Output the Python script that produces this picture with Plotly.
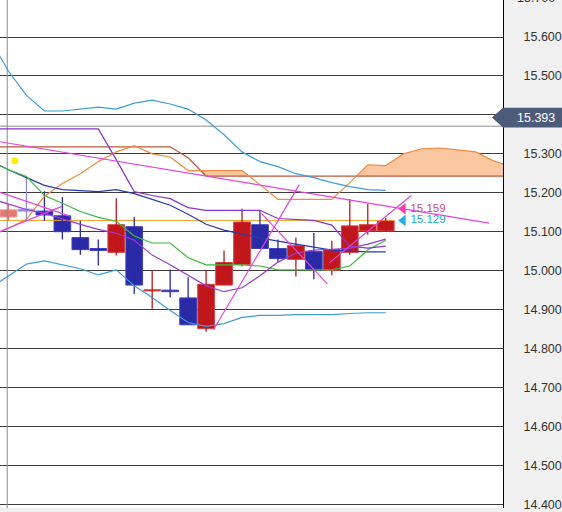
import plotly.graph_objects as go

# ---------------- data ----------------
# candles (index 0..21)
opens  = [15.138, 15.158, 15.153, 15.141, 15.085, 15.057, 15.047, 15.113, 14.948, 14.950, 14.930,
          14.851, 14.963, 15.016, 15.118, 15.057, 15.029, 15.049, 15.001, 15.047, 15.102, 15.102]
highs  = [15.170, 15.240, 15.204, 15.189, 15.128, 15.080, 15.186, 15.138, 15.001, 15.003, 14.983,
          15.001, 15.052, 15.159, 15.153, 15.080, 15.085, 15.097, 15.077, 15.184, 15.171, 15.135]
lows   = [15.130, 15.128, 15.128, 15.080, 15.041, 15.013, 15.039, 14.940, 14.902, 14.932, 14.861,
          14.843, 14.963, 15.011, 15.057, 15.021, 14.985, 14.978, 14.988, 15.041, 15.092, 15.100]
closes = [15.156, 15.153, 15.143, 15.100, 15.054, 15.052, 15.118, 14.963, 14.951, 14.946, 14.861,
          14.965, 15.021, 15.125, 15.057, 15.031, 15.064, 15.003, 15.054, 15.115, 15.118, 15.129]
faded = [True, True] + [False] * 20

# indicator lines, index -1..21
ind_x = list(range(-1, 22))
bb_upper = [15.593, 15.512, 15.450, 15.410, 15.410, 15.415, 15.420, 15.415, 15.430, 15.438, 15.428,
            15.415, 15.387, 15.349, 15.305, 15.280, 15.267, 15.249, 15.239, 15.226, 15.216, 15.208, 15.206]
bb_lower = [14.956, 14.987, 15.017, 15.025, 15.015, 15.005, 14.989, 15.002, 14.961, 14.931, 14.898,
            14.867, 14.857, 14.864, 14.880, 14.885, 14.885, 14.887, 14.887, 14.887, 14.890, 14.892, 14.892]
bb_mid   = [15.282, 15.259, 15.239, 15.219, 15.208, 15.206, 15.203, 15.208, 15.198, 15.183, 15.168,
            15.145, 15.119, 15.104, 15.094, 15.084, 15.076, 15.068, 15.061, 15.053, 15.050, 15.048, 15.048]
green_ln = [15.282, 15.259, 15.242, 15.193, 15.173, 15.152, 15.137, 15.127, 15.089, 15.071, 15.071,
            15.033, 15.015, 15.015, 15.015, 15.012, 15.002, 15.002, 15.002, 15.002, 15.012, 15.053, 15.078]
kijun    = [15.364, 15.364, 15.364, 15.364, 15.364, 15.364, 15.364, 15.285, 15.203, 15.193, 15.185,
            15.162, 15.155, 15.155, 15.155, 15.155, 15.134, 15.132, 15.129, 15.117, 15.063, 15.058, 15.063]
tenkan   = [15.185, 15.170, 15.157, 15.147, 15.132, 15.119, 15.106, 15.096, 15.078, 15.040, 15.015,
            14.987, 14.961, 14.946, 14.956, 14.987, 15.022, 15.045, 15.053, 15.055, 15.058, 15.068, 15.081]

# leading spans, index -1..28
span_x = list(range(-1, 29))
span_a = [15.089, 15.109, 15.132, 15.191, 15.224, 15.249, 15.280, 15.305, 15.321, 15.300, 15.292,
          15.257, 15.257, 15.257, 15.257, 15.221, 15.183, 15.183, 15.183, 15.183, 15.226, 15.272,
          15.270, 15.300, 15.313, 15.315, 15.310, 15.305, 15.282, 15.267]
span_b = [15.318] * 11 + [15.290] + [15.243] * 18

# drawn trend lines: ((x0, y0), (x1, y1)) in (bar index, price)
trend_lines = [
    ((-0.47, 15.331), (26.75, 15.122)),
    ((-0.47, 15.201), (3.42, 15.140)),
    ((-0.47, 15.101), (2.97, 15.165)),
    ((11.42, 14.849), (16.19, 15.221)),
    ((14.08, 15.147), (17.75, 14.966)),
    ((17.86, 15.020), (22.42, 15.193)),
]
level_orange = 15.129
level_gray = 15.371
cross_x = -0.07
dot_x, dot_y = 0.36, 15.282
marker_pink = 15.159
marker_cyan = 15.129
marker_x = 21.97
cursor_price = 15.393

y_ticks = [14.4, 14.5, 14.6, 14.7, 14.8, 14.9, 15.0, 15.1, 15.2, 15.3, 15.4, 15.5, 15.6]
top_tick = 15.7
y_range = [14.3906, 15.695]
x_range = [-0.472, 27.528]

AX_FONT = "Liberation Sans Narrow, Arial Narrow, Liberation Sans"

# ---------------- figure ----------------
fig = go.Figure()

# cloud fill (only where span A above span B)
def cloud_polys(xs, a, b):
    polys, cur = [], None
    for k in range(len(xs)):
        up = a[k] >= b[k]
        if k > 0:
            prev_up = a[k - 1] >= b[k - 1]
            if up != prev_up:
                d0 = a[k - 1] - b[k - 1]
                d1 = a[k] - b[k]
                t = d0 / (d0 - d1)
                xc = xs[k - 1] + t * (xs[k] - xs[k - 1])
                yc = b[k - 1] + t * (b[k] - b[k - 1])
                if cur is None:
                    cur = [(xc, yc, yc)]
                else:
                    cur.append((xc, yc, yc))
                    polys.append(cur)
                    cur = None
        if up:
            if cur is None:
                cur = []
            cur.append((xs[k], a[k], b[k]))
    if cur:
        polys.append(cur)
    return polys

for poly in cloud_polys(span_x, span_a, span_b):
    px = [p[0] for p in poly] + [p[0] for p in poly[::-1]]
    py = [p[1] for p in poly] + [p[2] for p in poly[::-1]]
    fig.add_trace(go.Scatter(x=px, y=py, fill="toself", fillcolor="#fbc7a0",
                             line=dict(width=0), mode="lines", hoverinfo="skip"))

# horizontal levels
fig.add_trace(go.Scatter(x=[x_range[0], x_range[1]], y=[level_gray, level_gray], mode="lines",
                         line=dict(color="#8c8c8c", width=1), hoverinfo="skip"))
fig.add_trace(go.Scatter(x=[-0.5, 21.5], y=[level_orange, level_orange], mode="lines",
                         line=dict(color="#f0a028", width=1), hoverinfo="skip"))
# crosshair vertical
fig.add_trace(go.Scatter(x=[cross_x, cross_x], y=y_range, mode="lines",
                         line=dict(color="#8a8a8a", width=1), hoverinfo="skip"))

# candles
RED, RED_L = "#c0161c", "#d84040"
BLUE, BLUE_L = "#2a2aa6", "#4040c4"
for i in range(len(opens)):
    up = closes[i] >= opens[i]
    if faded[i]:
        col, lcol = ("#e07a72", "#e89088") if up else ("#8c8ce0", "#9c9ce8")
    else:
        col, lcol = (RED, RED_L) if up else (BLUE, BLUE_L)
    fig.add_trace(go.Scatter(x=[i, i], y=[lows[i], highs[i]], mode="lines",
                             line=dict(color=col, width=1.3), hoverinfo="skip"))
    lo = min(opens[i], closes[i])
    h = abs(closes[i] - opens[i])
    fig.add_trace(go.Bar(x=[i], y=[h], base=[lo], width=0.93,
                         marker=dict(color=col, line=dict(color=lcol, width=1)), hoverinfo="skip"))

# indicator lines
def add_line(xs, ys, color, width=1.2):
    fig.add_trace(go.Scatter(x=xs, y=ys, mode="lines", line=dict(color=color, width=width),
                             hoverinfo="skip"))

add_line(span_x, span_b, "#b8583c")
add_line(span_x, span_a, "#f08a40")
add_line(ind_x, bb_upper, "#3d9ddb")
add_line(ind_x, bb_lower, "#3d9ddb")
add_line(ind_x, bb_mid, "#2a3aae")
add_line(ind_x, green_ln, "#3cba3c")
add_line(ind_x, kijun, "#8a34c8")
add_line(ind_x, tenkan, "#9a3cd0")
for (x0, y0), (x1, y1) in trend_lines:
    add_line([x0, x1], [y0, y1], "#e444dc", 1.2)

# yellow dot
fig.add_trace(go.Scatter(x=[dot_x], y=[dot_y], mode="markers",
                         marker=dict(color="#ffee00", size=7), hoverinfo="skip"))
# price markers
fig.add_trace(go.Scatter(x=[marker_x], y=[marker_pink], mode="markers+text",
                         marker=dict(symbol="triangle-left", color="#ff3aa8", size=10),
                         text=["%.3f" % marker_pink], textposition="middle right",
                         textfont=dict(color="#cc4a94", size=11.5, family="Liberation Sans, Arial"),
                         hoverinfo="skip"))
fig.add_trace(go.Scatter(x=[marker_x], y=[marker_cyan], mode="markers+text",
                         marker=dict(symbol="triangle-left", color="#1eb0e6", size=10),
                         text=["%.3f" % marker_cyan], textposition="middle right",
                         textfont=dict(color="#22a8e0", size=11.5, family="Liberation Sans, Arial"),
                         hoverinfo="skip"))

# cursor price box on right axis
half = 0.0255
fig.add_shape(type="path", xref="paper", yref="y", layer="above",
              path=(f"M 0.978 {cursor_price} L 1.0 {cursor_price + half} L 1.2 {cursor_price + half} "
                    f"L 1.2 {cursor_price - half} L 1.0 {cursor_price - half} Z"),
              fillcolor="#4d5b7b", line=dict(width=0))
fig.add_annotation(xref="paper", yref="y", x=1.066, y=cursor_price, text="%.3f" % cursor_price,
                   xanchor="center", yanchor="middle", showarrow=False,
                   font=dict(color="white", size=12.5, family=AX_FONT))
# top cut-off tick label
fig.add_annotation(xref="paper", yref="paper", x=1.066,
                   y=(top_tick - y_range[0]) / (y_range[1] - y_range[0]), text="%.3f" % top_tick,
                   xanchor="center", yanchor="middle", showarrow=False,
                   font=dict(color="#333333", size=12.5, family=AX_FONT))

tick_text = [("" if abs(v - 15.4) < 1e-9 else "%.3f" % v) for v in y_ticks]

fig.update_layout(
    width=562, height=512,
    margin=dict(l=0, r=58, t=0, b=0),
    paper_bgcolor="#f0f0f0", plot_bgcolor="white",
    showlegend=False, barmode="overlay", hovermode=False,
    xaxis=dict(range=x_range, showgrid=False, zeroline=False, showticklabels=False,
               fixedrange=True),
    yaxis=dict(range=y_range, side="right", tickvals=y_ticks, ticktext=tick_text,
               showgrid=True, gridcolor="#3c3c3c", gridwidth=1, zeroline=False,
               showline=True, linecolor="#000000", linewidth=1,
               ticks="outside", ticklen=17, tickcolor="rgba(0,0,0,0)",
               ticklabeloverflow="allow",
               tickfont=dict(color="#333333", size=12.5, family=AX_FONT)),
)

fig.write_html("out.html")
